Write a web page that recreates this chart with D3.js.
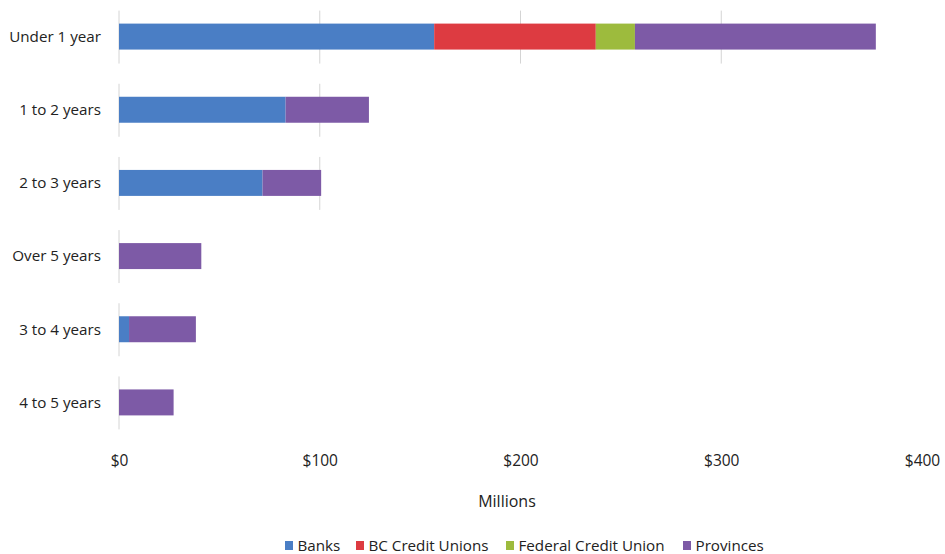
<!DOCTYPE html>
<html>
<head>
<meta charset="utf-8">
<script src="https://cdn.jsdelivr.net/npm/d3@7"></script>
<style>
  html, body { margin: 0; padding: 0; background: #ffffff; }
  svg { display: block; }
  text { font-family: "Open Sans", "Liberation Sans", sans-serif; fill: #222; }
</style>
</head>
<body>
<svg id="chart" width="945" height="554"></svg>
<script>
// Term-to-maturity buckets, top to bottom
const categories = ["Under 1 year", "1 to 2 years", "2 to 3 years", "Over 5 years", "3 to 4 years", "4 to 5 years"];
const seriesNames = ["Banks", "BC Credit Unions", "Federal Credit Union", "Provinces"];

// Values in millions of dollars, one entry per category
const banks              = [157, 83, 71.5, 0, 5, 0];
const bcCreditUnions     = [80.5, 0, 0, 0, 0, 0];
const federalCreditUnion = [19.5, 0, 0, 0, 0, 0];
const provinces          = [120, 41.5, 29.2, 41, 33.3, 27.2];

const tickValues = [0, 100, 200, 300, 400];
const axisTitle = "Millions";

const colors = ["#4a7ec5", "#dd3b41", "#9dbb3d", "#7d5aa6"];

const rows = categories.map((c, i) => ({
  category: c,
  "Banks": banks[i],
  "BC Credit Unions": bcCreditUnions[i],
  "Federal Credit Union": federalCreditUnion[i],
  "Provinces": provinces[i]
}));

const svg = d3.select("#chart");

const x = d3.scaleLinear().domain([0, 400]).range([119, 922]);
const y = d3.scaleBand().domain(categories).range([0, 439]).paddingInner(0.645).paddingOuter(0.3225);
const color = d3.scaleOrdinal().domain(seriesNames).range(colors);

const stacked = d3.stack().keys(seriesNames)(rows);

// Gridline segments, shown beside each bar up to its length
const gridG = svg.append("g");
rows.forEach(r => {
  const total = d3.sum(seriesNames, k => r[k]);
  tickValues.filter(t => t <= total + 4).forEach(t => {
    gridG.append("line")
      .attr("x1", x(t)).attr("x2", x(t))
      .attr("y1", y(r.category) - 13)
      .attr("y2", y(r.category) + y.bandwidth() + 14)
      .attr("stroke", "#d4d4d4")
      .attr("stroke-width", 1);
  });
});

// Stacked bars
svg.append("g")
  .selectAll("g")
  .data(stacked)
  .join("g")
  .attr("fill", d => color(d.key))
  .selectAll("rect")
  .data(d => d.filter(p => p[1] - p[0] > 0))
  .join("rect")
  .attr("x", d => x(d[0]))
  .attr("width", d => x(d[1]) - x(d[0]))
  .attr("y", d => y(d.data.category))
  .attr("height", y.bandwidth());

// Category labels
svg.append("g")
  .selectAll("text")
  .data(categories)
  .join("text")
  .attr("x", 101)
  .attr("y", d => y(d) + y.bandwidth() / 2)
  .attr("dy", "0.35em")
  .attr("text-anchor", "end")
  .attr("font-size", 15.2)
  .text(d => d);

// Value axis
const xAxis = d3.axisBottom(x).tickValues(tickValues).tickSize(0).tickPadding(0)
  .tickFormat(d => "$" + d);
const axG = svg.append("g").attr("transform", "translate(0,455)").call(xAxis);
axG.select(".domain").remove();
axG.selectAll("text")
  .attr("font-size", 15.5)
  .attr("font-family", "'Open Sans', sans-serif")
  .attr("fill", "#222");

svg.append("text")
  .attr("x", 507)
  .attr("y", 501)
  .attr("dy", "0.35em")
  .attr("text-anchor", "middle")
  .attr("font-size", 16)
  .text(axisTitle);

// Legend
const legendX = [285, 356, 506, 683];
const legend = svg.append("g");
seriesNames.forEach((name, i) => {
  const g = legend.append("g").attr("transform", `translate(${legendX[i]},545.5)`);
  g.append("rect").attr("x", 0).attr("y", -4.5).attr("width", 8).attr("height", 9).attr("fill", colors[i]);
  g.append("text").attr("x", 12.5).attr("dy", "0.35em").attr("font-size", 15.2).text(name);
});
</script>
</body>
</html>
